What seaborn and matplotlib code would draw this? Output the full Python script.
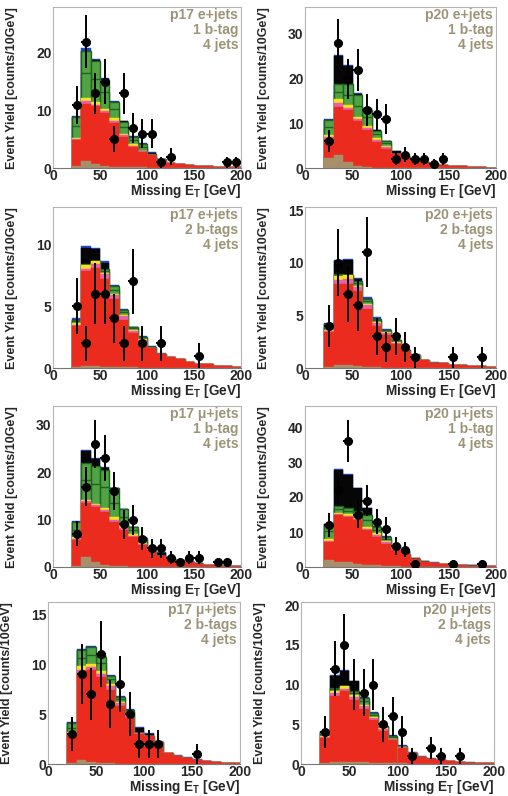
import numpy as np
import matplotlib
matplotlib.use("Agg")
import matplotlib.pyplot as plt
from matplotlib.ticker import MultipleLocator
import seaborn as sns

# ---------------------------------------------------------------- binning
bin_edges = list(range(20, 201, 10))
bin_centers = [e + 5 for e in bin_edges[:-1]]

# ---------------------------------------------------------------- panels
run_labels = ["p17 e+jets", "p20 e+jets", "p17 e+jets", "p20 e+jets",
              "p17 \u03bc+jets", "p20 \u03bc+jets", "p17 \u03bc+jets", "p20 \u03bc+jets"]
tag_labels = ["1 b-tag", "1 b-tag", "2 b-tags", "2 b-tags",
              "1 b-tag", "1 b-tag", "2 b-tags", "2 b-tags"]
jet_label = "4 jets"
y_max = [28, 36, 13, 15.3, 34, 46, 16.2, 20.4]
y_step = [10, 10, 5, 5, 10, 10, 5, 5]

# ---------------------------------------------------------------- expected yields per component (events / 10 GeV)
# one row per panel, 18 bins from 20 to 200 GeV
other_bkg = [
    [0.3, 1.2, 0.7, 0.3, 0.2, 0.1, 0.1, 0.1, 0, 0, 0, 0, 0, 0, 0, 0, 0, 0],
    [2.3, 2.8, 1.3, 0.5, 0.2, 0.1, 0.1, 0, 0, 0, 0, 0, 0, 0, 0, 0, 0, 0],
    [0.1, 0.15, 0.15, 0.1, 0.1, 0.05, 0.05, 0, 0, 0, 0, 0, 0, 0, 0, 0, 0, 0],
    [0.1, 0.3, 0.3, 0.2, 0.1, 0.1, 0, 0, 0, 0, 0, 0, 0, 0, 0, 0, 0, 0],
    [0.3, 2.2, 1.1, 0.5, 0.3, 0.2, 0.1, 0.1, 0, 0, 0, 0, 0, 0, 0, 0, 0, 0],
    [2.0, 1.5, 1.3, 1.0, 0.5, 0.5, 0.3, 0.2, 0.1, 0, 0, 0, 0, 0, 0, 0, 0, 0],
    [0.1, 0.4, 0.2, 0.1, 0.1, 0, 0, 0, 0, 0, 0, 0, 0, 0, 0, 0, 0, 0],
    [0.1, 0.3, 0.3, 0.2, 0.2, 0.1, 0.1, 0.1, 0.1, 0.05, 0, 0, 0, 0, 0, 0, 0, 0],
]
signal = [
    [4.5, 10.0, 10.0, 9.2, 7.6, 5.3, 3.6, 2.7, 2.2, 1.4, 0.8, 0.7, 0.5, 0.4, 0.3, 0.25, 0.15, 0.1],
    [4.2, 10.9, 11.7, 10.1, 8.2, 5.8, 4.2, 3.2, 2.4, 1.7, 1.3, 0.9, 0.7, 0.5, 0.4, 0.3, 0.2, 0.1],
    [3.3, 7.65, 7.95, 7.1, 5.5, 3.85, 2.75, 2.2, 1.6, 1.1, 0.9, 0.7, 0.5, 0.35, 0.3, 0.2, 0.15, 0.1],
    [3.3, 7.7, 7.7, 7.1, 5.5, 3.9, 3.1, 2.3, 1.6, 1.2, 0.75, 0.5, 0.45, 0.3, 0.25, 0.2, 0.15, 0.1],
    [5.3, 11.3, 11.5, 11.1, 9.2, 7.6, 6.2, 4.5, 3.5, 2.4, 1.9, 1.3, 1.0, 0.7, 0.45, 0.35, 0.25, 0.15],
    [5.1, 13.3, 13.0, 12.3, 10.0, 8.1, 6.4, 4.8, 3.7, 2.2, 1.4, 1.1, 0.8, 0.7, 0.5, 0.4, 0.3, 0.15],
    [2.9, 8.7, 9.2, 8.6, 7.3, 5.8, 4.6, 3.0, 2.8, 2.2, 1.1, 0.85, 0.65, 0.45, 0.3, 0.2, 0.15, 0.1],
    [3.2, 8.3, 8.9, 7.8, 6.7, 5.4, 4.1, 2.9, 1.9, 1.35, 0.9, 0.65, 0.45, 0.35, 0.25, 0.15, 0.1, 0.1],
]
single_top = [
    [0.2, 0.4, 0.3, 0.4, 0.4, 0.3, 0.2, 0.1, 0, 0, 0, 0, 0, 0, 0, 0, 0, 0],
    [0.4, 0.8, 0.5, 0.4, 0.6, 0.4, 0.3, 0, 0, 0, 0, 0, 0, 0, 0, 0, 0, 0],
    [0.1, 0.2, 0.3, 0.4, 0.3, 0.3, 0.2, 0.1, 0, 0, 0, 0, 0, 0, 0, 0, 0, 0],
    [0.1, 0.4, 0.5, 0.4, 0.4, 0.3, 0.2, 0.1, 0.05, 0, 0, 0, 0, 0, 0, 0, 0, 0],
    [0.3, 0.4, 0.4, 0.4, 0.5, 0.4, 0.3, 0.2, 0, 0, 0, 0, 0, 0, 0, 0, 0, 0],
    [0.4, 0.3, 0.4, 0.3, 0.5, 0.6, 0.4, 0.1, 0, 0, 0, 0, 0, 0, 0, 0, 0, 0],
    [0.1, 0.3, 0.3, 0.3, 0.4, 0.3, 0.3, 0.1, 0, 0, 0, 0, 0, 0, 0, 0, 0, 0],
    [0.1, 0.3, 0.3, 0.4, 0.4, 0.3, 0.2, 0.1, 0.1, 0, 0, 0, 0, 0, 0, 0, 0, 0],
]
diboson = [
    [0.3, 0.6, 0.5, 0.4, 0.5, 0.3, 0.2, 0.1, 0, 0, 0, 0, 0, 0, 0, 0, 0, 0],
    [0.4, 0.9, 0.6, 0.3, 0.5, 0.4, 0.4, 0, 0, 0, 0, 0, 0, 0, 0, 0, 0, 0],
    [0.1, 0.3, 0.2, 0.1, 0.1, 0.1, 0.1, 0.05, 0, 0, 0, 0, 0, 0, 0, 0, 0, 0],
    [0.1, 0.3, 0.3, 0.1, 0.1, 0.1, 0.1, 0.05, 0, 0, 0, 0, 0, 0, 0, 0, 0, 0],
    [0.4, 0.3, 0.4, 0.5, 0.5, 0.4, 0.4, 0.2, 0, 0, 0, 0, 0, 0, 0, 0, 0, 0],
    [0.5, 0.4, 0.5, 0.4, 0.5, 0.5, 0.3, 0.1, 0, 0, 0, 0, 0, 0, 0, 0, 0, 0],
    [0.1, 0.4, 0.3, 0.3, 0.2, 0.1, 0.1, 0, 0, 0, 0, 0, 0, 0, 0, 0, 0, 0],
    [0.1, 0.3, 0.3, 0.3, 0.1, 0.1, 0.1, 0.1, 0, 0, 0, 0, 0, 0, 0, 0, 0, 0],
]
w_light = [
    [2.0, 4.3, 4.0, 2.9, 1.5, 1.1, 0.7, 0.6, 0.1, 0, 0, 0, 0, 0, 0, 0, 0, 0],
    [1.8, 1.7, 2.3, 2.6, 1.8, 0.9, 0.5, 0, 0, 0, 0, 0, 0, 0, 0, 0, 0, 0],
    [0.2, 0.05, 0, 0.15, 0.3, 0.2, 0.1, 0.1, 0.05, 0, 0, 0, 0, 0, 0, 0, 0, 0],
    [0.3, 0.1, 0, 0.3, 0.3, 0.2, 0.1, 0.1, 0.05, 0, 0, 0, 0, 0, 0, 0, 0, 0],
    [1.6, 4.2, 4.2, 4.5, 3.1, 2.0, 0.8, 0.6, 0, 0, 0, 0, 0, 0, 0, 0, 0, 0],
    [2.2, 1.0, 0.9, 1.0, 1.8, 1.0, 0.7, 0, 0, 0, 0, 0, 0, 0, 0, 0, 0, 0],
    [0.4, 0.8, 0.9, 0.8, 0.5, 0.3, 0.2, 0, 0, 0, 0, 0, 0, 0, 0, 0, 0, 0],
    [0.2, 0.2, 0, 0.3, 0.5, 0.3, 0.2, 0.2, 0.1, 0, 0, 0, 0, 0, 0, 0, 0, 0],
]
w_heavy = [
    [1.5, 3.8, 3.1, 2.1, 1.2, 0.9, 0.6, 0.6, 0.1, 0.1, 0, 0, 0, 0, 0, 0, 0, 0],
    [1.6, 1.6, 2.3, 2.4, 1.7, 0.7, 0.5, 0, 0, 0, 0, 0, 0, 0, 0, 0, 0, 0],
    [0.1, 0.05, 0, 0.15, 0.3, 0.2, 0.1, 0.05, 0.05, 0, 0, 0, 0, 0, 0, 0, 0, 0],
    [0.3, 0.1, 0, 0.2, 0.2, 0.1, 0.1, 0.1, 0.05, 0, 0, 0, 0, 0, 0, 0, 0, 0],
    [1.6, 3.6, 3.7, 3.5, 3.0, 1.6, 0.6, 0.5, 0, 0, 0, 0, 0, 0, 0, 0, 0, 0],
    [2.0, 1.0, 0.9, 1.0, 1.7, 0.8, 0.6, 0, 0, 0, 0, 0, 0, 0, 0, 0, 0, 0],
    [0.5, 0.8, 0.8, 0.6, 0.3, 0.2, 0.2, 0, 0, 0, 0, 0, 0, 0, 0, 0, 0, 0],
    [0.3, 0.2, 0, 0.2, 0.4, 0.2, 0.1, 0.1, 0.1, 0, 0, 0, 0, 0, 0, 0, 0, 0],
]
multijet = [
    [0, 0.1, 0.1, 0.1, 0.1, 0.1, 0, 0, 0.2, 0, 0, 0, 0, 0, 0, 0, 0, 0],
    [0, 6.3, 4.1, 0.2, 0.2, 0.1, 0, 0.6, 0.3, 0.2, 0.1, 0, 0, 0, 0, 0, 0, 0],
    [0, 1.3, 1.0, 0.5, 0, 0, 0, 0, 0, 0, 0, 0, 0, 0, 0, 0, 0, 0],
    [0, 1.3, 1.5, 0.2, 0, 0, 0, 0, 0, 0, 0, 0, 0, 0, 0, 0, 0, 0],
    [0, 2.5, 1.5, 0.5, 0, 0, 0, 0.1, 0.6, 0.6, 0.2, 0.1, 0.1, 0.05, 0, 0, 0, 0],
    [0, 10.3, 9.3, 6.5, 1.8, 0, 0, 0.9, 0.9, 0.4, 0.2, 0.1, 0.1, 0.1, 0.05, 0.05, 0.05, 0.05],
    [0, 0, 0, 0.1, 0, 0, 0, 0.5, 0.2, 0, 0, 0, 0, 0, 0, 0, 0, 0],
    [0, 1.5, 1.9, 1.2, 0, 0, 0, 0, 0, 0, 0, 0, 0, 0, 0, 0, 0, 0],
]
z_jets = [
    [0.3, 0.4, 0.2, 0.2, 0.1, 0.1, 0.1, 0.1, 0.1, 0.1, 0, 0, 0, 0, 0, 0, 0, 0],
    [0.3, 0.2, 0.2, 0.2, 0.2, 0.1, 0.1, 0.1, 0.1, 0.1, 0, 0, 0, 0, 0, 0, 0, 0],
    [0.1, 0.15, 0.1, 0.1, 0.1, 0.05, 0.05, 0.05, 0.05, 0.1, 0, 0, 0, 0, 0, 0, 0, 0],
    [0.1, 0.1, 0.1, 0.1, 0.1, 0.1, 0.1, 0.05, 0.05, 0.1, 0.05, 0.05, 0.05, 0, 0, 0, 0, 0],
    [0.3, 0.2, 0.2, 0.2, 0.1, 0.1, 0.1, 0.1, 0.1, 0.1, 0.1, 0.1, 0.1, 0, 0, 0, 0, 0],
    [0.2, 0.2, 0.2, 0.2, 0.2, 0.1, 0.1, 0.1, 0.1, 0.1, 0.1, 0.1, 0.1, 0.1, 0.05, 0.05, 0.05, 0],
    [0.1, 0.1, 0.1, 0.1, 0.1, 0.1, 0.1, 0.1, 0.1, 0.1, 0.05, 0.05, 0.05, 0.05, 0, 0, 0, 0],
    [0.1, 0.1, 0.1, 0.1, 0.1, 0.1, 0.1, 0.1, 0.1, 0.1, 0.1, 0.05, 0.05, 0.05, 0.05, 0.05, 0.05, 0],
]

# ---------------------------------------------------------------- observed events
data_met = [
    [25, 35, 45, 55, 65, 75, 85, 95, 105, 115, 125, 185, 195],
    [25, 35, 45, 55, 65, 75, 85, 95, 105, 115, 125, 135, 145],
    [25, 35, 45, 55, 65, 75, 85, 95, 115, 155],
    [25, 35, 45, 55, 65, 75, 85, 95, 105, 115, 155, 185],
    [25, 35, 45, 55, 65, 75, 85, 95, 105, 115, 125, 135, 145, 155, 175, 185],
    [25, 35, 45, 55, 65, 75, 85, 95, 105, 115, 155, 185],
    [25, 35, 45, 55, 65, 75, 85, 95, 105, 115, 155],
    [25, 35, 45, 55, 65, 75, 85, 95, 105, 115, 135, 145, 165],
]
data_counts = [
    [11, 22, 13, 15, 5, 13, 7, 6, 6, 1, 2, 1, 1],
    [6, 28, 20, 22, 13, 12, 11, 2, 3, 2, 2, 1, 2],
    [5, 2, 6, 6, 4, 2, 7, 2, 2, 1],
    [4, 10, 7, 6, 11, 3, 2, 3, 2, 1, 1, 1],
    [7, 17, 26, 23, 16, 9, 10, 6, 4, 4, 2, 1, 2, 2, 1, 1],
    [12, 22, 36, 15, 19, 13, 11, 6, 5, 1, 1, 1],
    [3, 9, 7, 11, 6, 8, 5, 2, 2, 2, 1],
    [4, 12, 15, 10, 9, 10, 5, 6, 4, 1, 2, 1, 1],
]

# stacking order bottom -> top : (yields, face colour, edge colour, edge width)
stack = [
    (other_bkg, "#a88f6c", "#a88f6c", 0.3),
    (signal, "#ec2b1f", "#ec2b1f", 0.3),
    (single_top, "#e462ad", "#e462ad", 0.3),
    (diboson, "#f6e21c", "#f6e21c", 0.3),
    (w_light, "#52a343", "#1f6321", 1.0),
    (w_heavy, "#52a343", "#1f6321", 1.0),
    (multijet, "#060606", "#060606", 0.3),
    (z_jets, "#2047cf", "#2047cf", 0.3),
]

# ---------------------------------------------------------------- style
sns.set_style("white")
plt.rcParams["font.family"] = ["Liberation Sans", "DejaVu Sans"]
plt.rcParams["font.weight"] = "bold"
plt.rcParams["mathtext.fontset"] = "custom"
plt.rcParams["mathtext.rm"] = "Liberation Sans:bold"
plt.rcParams["mathtext.it"] = "Liberation Sans:bold"
plt.rcParams["mathtext.bf"] = "Liberation Sans:bold"

W, H = 508, 796
fig = plt.figure(figsize=(W / 100, H / 100), dpi=100)
fig.patch.set_facecolor("white")

# pixel boxes (left, right, top, bottom) of each panel
boxes = [
    (53, 241, 7, 168), (305, 496, 7, 168),
    (53, 241, 207, 368), (305, 496, 207, 368),
    (53, 241, 406, 567), (305, 496, 406, 567),
    (48, 240, 602, 764), (301, 494, 602, 764),
]

text_col = "#9c9478"
frame_col = "#b5b5b5"

for i, (l, r, t, b) in enumerate(boxes):
    ax = fig.add_axes([l / W, 1 - b / H, (r - l) / W, (b - t) / H])
    heights = np.array([comp[0][i] for comp in stack], dtype=float)
    tops = heights.cumsum(axis=0)
    # draw cumulative histograms from the outermost layer inwards
    for k in range(len(stack) - 1, -1, -1):
        _, face, edge, lw = stack[k]
        sns.histplot(x=bin_centers, weights=tops[k], bins=bin_edges,
                     element="bars", fill=True, color=face, alpha=1,
                     edgecolor=edge, linewidth=lw, ax=ax)

    n_obs = np.array(data_counts[i], dtype=float)
    ax.errorbar(data_met[i], n_obs, yerr=np.sqrt(n_obs), xerr=5,
                fmt="o", color="black", ms=5.5, elinewidth=1.4,
                capsize=0, zorder=6)

    ax.set_xlim(0, 200)
    ax.set_ylim(0, y_max[i])
    ax.xaxis.set_major_locator(MultipleLocator(50))
    ax.xaxis.set_minor_locator(MultipleLocator(10))
    ax.yaxis.set_major_locator(MultipleLocator(y_step[i]))
    ax.tick_params(axis="both", which="major", direction="in", length=5,
                   width=0.8, color="#888888", labelsize=10, pad=1)
    ax.tick_params(axis="x", which="minor", direction="in", length=2.5,
                   width=0.6, color="#888888")
    for s in ax.spines.values():
        s.set_color(frame_col)
        s.set_linewidth(0.8)
    ax.spines["bottom"].set_color("#777777")

    ax.set_xlabel(r"Missing $E_T$ [GeV]", fontsize=9.8, fontweight="bold")
    ax.xaxis.set_label_coords(1.0, -14 / (b - t))
    ax.xaxis.label.set_horizontalalignment("right")
    ax.xaxis.label.set_verticalalignment("top")
    ax.set_ylabel("Event Yield [counts/10GeV]", fontsize=9, fontweight="bold")
    ax.yaxis.set_label_coords(-35 / (r - l), 1.0)
    ax.yaxis.label.set_horizontalalignment("right")

    for j, txt in enumerate([run_labels[i], tag_labels[i], jet_label]):
        ax.text(0.985, 1 - (8 + 15 * j) / (b - t), txt, transform=ax.transAxes,
                ha="right", va="center", fontsize=10, color=text_col,
                fontweight="bold", zorder=7)

fig.savefig("out.png", dpi=100, facecolor="white")
